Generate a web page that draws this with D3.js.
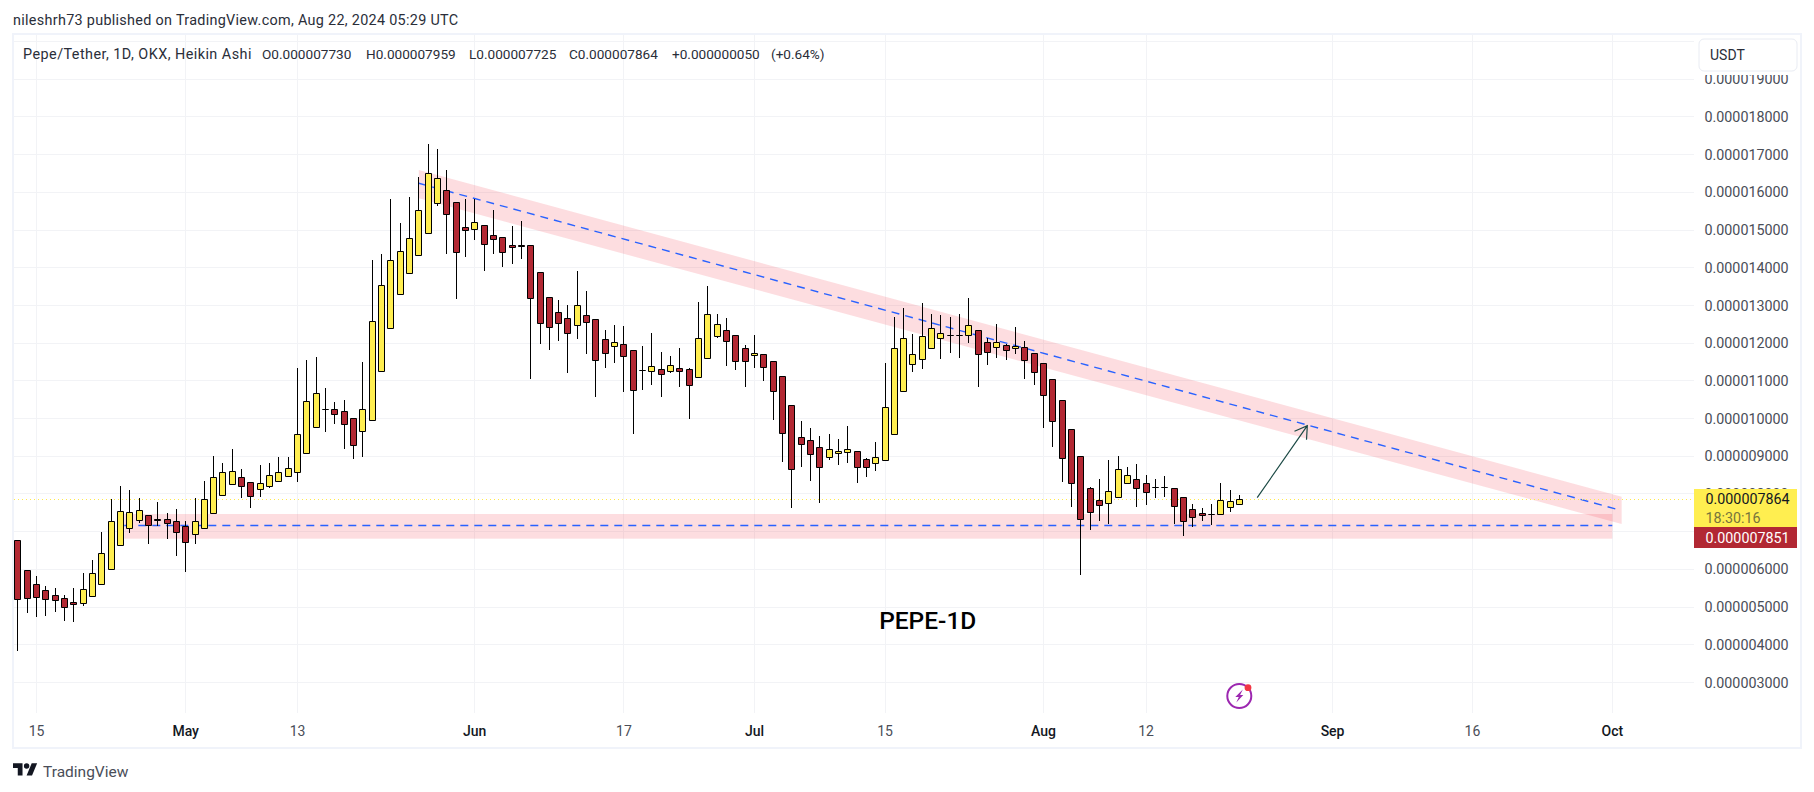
<!DOCTYPE html>
<html>
<head>
<meta charset="utf-8">
<title>PEPE-1D</title>
<script src="https://cdn.jsdelivr.net/npm/d3@7"></script>
<style>
  html, body { margin: 0; padding: 0; background: #fff; }
  svg { display: block; }
  text { font-family: Roboto, "Liberation Sans", sans-serif; }
  .grid line { stroke: #f2f3f6; stroke-width: 1; }
  .band { fill: #f23645; fill-opacity: 0.17; stroke: none; }
  .mid { fill: none; stroke: #2962ff; stroke-width: 1.4; stroke-dasharray: 8, 6; }
  .wick { stroke: #000; stroke-width: 1; }
  .body { stroke: #000; stroke-width: 1; }
  .ptick { font-size: 14.3px; fill: #4a4e58; }
  .ttick { font-size: 14px; fill: #4a4e58; text-anchor: middle; }
  .ttick.month { font-weight: 500; fill: #131722; }
  .legend { font-size: 13.6px; fill: #2a2e39; }
</style>
</head>
<body>
<script>
// prices in millionths of USDT, one entry per day from 13 Apr 2024
var opens = [6.768, 5.964, 5.592, 5.433, 5.301, 5.221, 5.124, 5.097, 5.283, 5.601, 5.999, 6.636, 7.087, 7.299, 7.431, 7.325, 7.325, 7.272, 7.140, 6.928,
  7.087, 7.485, 7.962, 8.254, 8.439, 8.307, 8.121, 8.201, 8.333, 8.466, 8.572, 9.076, 9.766, 10.243, 10.243, 10.190, 10.004, 9.660, 9.951, 11.251,
  12.392, 13.294, 13.851, 14.328, 14.912, 15.707, 16.052, 15.734, 15.071, 15.018, 15.124, 14.859, 14.805, 14.593, 14.585, 14.593, 13.877, 13.214, 12.816, 12.657,
  12.471, 12.737, 12.630, 12.100, 11.914, 11.967, 11.808, 11.269, 11.251, 11.304, 11.251, 11.331, 11.304, 11.092, 11.596, 12.179, 12.339, 12.206, 11.861, 11.676,
  11.702, 11.516, 11.118, 10.349, 9.500, 9.421, 9.235, 8.970, 9.076, 9.103, 9.129, 8.917, 8.811, 8.890, 9.580, 10.721, 11.437, 11.569, 11.861, 12.126,
  12.197, 12.197, 12.206, 12.339, 12.020, 11.888, 11.941, 11.861, 11.888, 11.729, 11.463, 11.039, 10.482, 9.713, 8.996, 8.148, 7.829, 7.750, 7.909, 8.280,
  8.386, 8.280, 8.174, 8.174, 8.148, 7.909, 7.591, 7.485, 7.458, 7.458, 7.644, 7.730];
var highs = [6.768, 5.964, 5.822, 5.557, 5.495, 5.318, 5.495, 5.893, 6.238, 6.981, 7.856, 8.201, 8.095, 7.882, 7.431, 7.776, 7.485, 7.591, 7.272, 7.882,
  8.333, 8.996, 8.811, 9.182, 8.652, 8.307, 8.758, 8.811, 8.970, 8.970, 11.331, 11.543, 11.622, 10.800, 10.429, 10.482, 10.004, 11.490, 14.195, 14.355,
  15.813, 15.177, 15.867, 16.397, 17.272, 17.140, 16.583, 15.734, 15.813, 15.813, 15.124, 15.522, 14.805, 15.097, 15.230, 14.593, 13.877, 13.214, 13.134, 13.002,
  13.904, 13.373, 12.630, 12.339, 12.471, 12.445, 11.808, 11.914, 12.259, 11.755, 11.649, 11.861, 11.331, 13.081, 13.506, 12.763, 12.657, 12.206, 11.941, 12.206,
  11.702, 11.516, 11.118, 10.349, 9.925, 9.739, 9.527, 9.589, 9.447, 9.792, 9.129, 8.943, 9.368, 11.463, 12.684, 12.922, 12.233, 13.055, 12.763, 12.737,
  12.684, 12.763, 13.188, 12.339, 12.126, 12.498, 11.976, 12.418, 12.047, 11.729, 11.463, 11.039, 10.482, 9.713, 8.996, 8.174, 8.386, 8.890, 8.996, 8.705,
  8.784, 8.492, 8.386, 8.466, 8.148, 7.909, 7.723, 7.617, 7.723, 8.280, 8.095, 7.959];
var lows = [3.842, 4.850, 4.744, 4.770, 4.876, 4.637, 4.611, 5.035, 5.283, 5.601, 5.999, 6.636, 6.972, 7.237, 6.680, 7.149, 6.813, 6.362, 5.937, 6.680,
  7.087, 7.485, 7.962, 8.254, 7.900, 7.635, 7.927, 8.165, 8.333, 8.466, 8.324, 9.076, 9.766, 9.633, 9.845, 9.182, 8.917, 8.970, 9.951, 11.251,
  12.392, 13.294, 13.851, 14.328, 14.912, 15.645, 14.372, 13.179, 14.293, 14.744, 13.921, 14.372, 14.027, 14.107, 14.240, 11.057, 11.985, 11.826, 12.064, 11.216,
  12.118, 11.720, 10.579, 11.348, 11.481, 10.712, 9.598, 10.765, 10.897, 10.579, 11.198, 10.844, 9.996, 11.092, 11.596, 12.144, 11.401, 11.295, 10.844, 11.348,
  11.004, 9.969, 8.855, 7.617, 8.722, 8.351, 7.767, 8.908, 8.775, 8.828, 8.298, 8.457, 8.616, 8.890, 9.580, 10.721, 11.242, 11.322, 11.861, 11.587,
  11.746, 11.614, 12.012, 10.844, 11.428, 11.614, 11.561, 11.720, 11.057, 10.897, 9.757, 9.253, 8.324, 7.661, 5.858, 7.051, 7.290, 7.210, 7.909, 8.280,
  7.661, 7.714, 7.900, 7.927, 7.210, 6.892, 7.131, 7.290, 7.184, 7.458, 7.529, 7.725];
var closes = [5.203, 5.230, 5.256, 5.203, 5.177, 4.991, 5.071, 5.469, 5.893, 6.424, 7.272, 7.538, 7.511, 7.564, 7.166, 7.299, 7.219, 6.981, 6.715, 7.272,
  7.856, 8.439, 8.572, 8.599, 8.201, 7.935, 8.280, 8.492, 8.572, 8.678, 9.580, 10.455, 10.668, 10.235, 10.110, 9.845, 9.288, 10.243, 12.577, 13.532,
  14.195, 14.434, 14.779, 15.522, 16.503, 16.370, 15.416, 14.408, 14.991, 15.203, 14.620, 14.752, 14.408, 14.540, 14.568, 13.188, 12.524, 12.418, 12.524, 12.259,
  13.002, 12.551, 11.543, 11.729, 12.020, 11.649, 10.747, 11.260, 11.384, 11.172, 11.410, 11.242, 10.880, 12.126, 12.763, 12.498, 12.047, 11.516, 11.516, 11.729,
  11.357, 10.721, 9.607, 8.652, 9.315, 9.050, 8.705, 9.182, 9.129, 9.182, 8.705, 8.705, 8.970, 10.296, 11.861, 12.126, 11.702, 12.179, 12.392, 12.259,
  12.206, 12.206, 12.471, 11.702, 11.755, 12.020, 11.808, 11.914, 11.543, 11.225, 10.614, 9.916, 8.943, 8.280, 7.325, 7.511, 7.697, 8.068, 8.652, 8.492,
  8.148, 8.042, 8.165, 8.165, 7.670, 7.272, 7.378, 7.431, 7.449, 7.829, 7.803, 7.864];

var firstDay = Date.UTC(2024, 3, 13);
var dayMs = 86400000;

var priceTicks = [3, 4, 5, 6, 7, 8, 9, 10, 11, 12, 13, 14, 15, 16, 17, 18, 19];
var priceGrid = priceTicks.concat([20]);

var timeTicks = ["2024-04-15", "2024-05-01", "2024-05-13", "2024-06-01", "2024-06-17", "2024-07-01", "2024-07-15", "2024-08-01", "2024-08-12", "2024-09-01", "2024-09-16", "2024-10-01"];
var timeLabels = ["15", "May", "13", "Jun", "17", "Jul", "15", "Aug", "12", "Sep", "16", "Oct"];

// drawings on the chart, anchored on date and price
var channelTimes = ["2024-05-26", "2024-10-02"];
var channelTop = [16.592, 7.926];
var channelMid = [16.239, 7.573];
var channelBottom = [15.841, 7.202];

var supportTimes = ["2024-04-24T10:00Z", "2024-10-01"];
var supportTop = 7.467;
var supportMid = 7.149;
var supportBottom = 6.812;

var arrowTimes = ["2024-08-23T22:00Z", "2024-08-29T07:00Z"];
var arrowPrices = [7.899, 9.809];

var lastPrice = 7.864;
var otherPrice = 7.851;
var countdown = "18:30:16";

var width = 1814,
  height = 792;

var x = d3
  .scaleUtc()
  .domain([new Date("2024-04-15"), new Date("2024-10-01")])
  .range([36.5, 1612.3]);
var y = d3.scaleLinear().domain([3, 19]).range([682.4, 79.2]);

var formatPrice = function (d) {
  return d3.format(".9f")(d * 1e-6);
};

function crisp(v) {
  return Math.floor(v) + 0.5;
}

function dayX(i) {
  return crisp(x(new Date(firstDay + i * dayMs)));
}

var svg = d3
  .select("body")
  .append("svg")
  .attr("width", width)
  .attr("height", height);

// grid
var grid = svg.append("g").attr("class", "grid");

grid
  .selectAll(".h")
  .data(priceGrid)
  .enter()
  .append("line")
  .attr("x1", 14)
  .attr("x2", 1694)
  .attr("y1", function (d) {
    return crisp(y(d));
  })
  .attr("y2", function (d) {
    return crisp(y(d));
  });

grid
  .selectAll(".v")
  .data(timeTicks)
  .enter()
  .append("line")
  .attr("y1", 35)
  .attr("y2", 713)
  .attr("x1", function (d) {
    return crisp(x(new Date(d)));
  })
  .attr("x2", function (d) {
    return crisp(x(new Date(d)));
  });

// frame
svg
  .append("rect")
  .attr("x", 13)
  .attr("y", 34)
  .attr("width", 1788)
  .attr("height", 714)
  .attr("fill", "none")
  .attr("stroke", "#f0f3fa")
  .attr("stroke-width", 2);

// pink zones and their dashed middle lines
var t0 = x(new Date(channelTimes[0])),
  t1 = x(new Date(channelTimes[1]));

svg
  .append("path")
  .attr("class", "band")
  .attr(
    "d",
    d3.line()([
      [t0, y(channelTop[0])],
      [t1, y(channelTop[1])],
      [t1, y(channelBottom[1])],
      [t0, y(channelBottom[0])],
    ]) + "Z"
  );

svg
  .append("path")
  .attr("class", "mid")
  .attr(
    "d",
    d3.line()([
      [t0, y(channelMid[0])],
      [t1 - 2, y(channelMid[1])],
    ])
  );

var s0 = x(new Date(supportTimes[0])),
  s1 = x(new Date(supportTimes[1]));

svg
  .append("rect")
  .attr("class", "band")
  .attr("x", s0)
  .attr("y", y(supportTop))
  .attr("width", s1 - s0)
  .attr("height", y(supportBottom) - y(supportTop));

svg
  .append("path")
  .attr("class", "mid")
  .attr(
    "d",
    d3.line()([
      [s0, crisp(y(supportMid))],
      [s1, crisp(y(supportMid))],
    ])
  );

// dotted last price line
svg
  .append("line")
  .attr("x1", 14)
  .attr("x2", 1694)
  .attr("y1", crisp(y(lastPrice)))
  .attr("y2", crisp(y(lastPrice)))
  .attr("stroke", "#ffe94d")
  .attr("stroke-dasharray", "1, 3");

// candles
var candles = svg
  .append("g")
  .selectAll("g")
  .data(opens)
  .enter()
  .append("g");

candles
  .append("line")
  .attr("class", "wick")
  .attr("x1", function (d, i) {
    return dayX(i);
  })
  .attr("x2", function (d, i) {
    return dayX(i);
  })
  .attr("y1", function (d, i) {
    return Math.round(y(highs[i]));
  })
  .attr("y2", function (d, i) {
    return Math.round(y(lows[i]));
  });

candles
  .append("path")
  .attr("class", "body")
  .attr("fill", function (d, i) {
    return closes[i] >= opens[i] ? "#ffee50" : "#b22833";
  })
  .attr("d", function (d, i) {
    var top = crisp(y(Math.max(opens[i], closes[i])));
    var bot = crisp(y(Math.min(opens[i], closes[i])));
    var p = d3.path();
    p.rect(dayX(i) - 3, top, 6, bot - top);
    return p.toString();
  });

// arrow
var a0 = [x(new Date(arrowTimes[0])), y(arrowPrices[0])],
  a1 = [x(new Date(arrowTimes[1])), y(arrowPrices[1])];
var ang = Math.atan2(a1[1] - a0[1], a1[0] - a0[0]);

function barb(turn) {
  return [a1[0] - 14 * Math.cos(ang + turn), a1[1] - 14 * Math.sin(ang + turn)];
}

svg
  .append("path")
  .attr("fill", "none")
  .attr("stroke", "#1c4a45")
  .attr("stroke-width", 1.2)
  .attr("d", d3.line()([a0, a1]) + d3.line()([barb(0.55), a1, barb(-0.55)]));

// chart note
svg
  .append("text")
  .attr("x", x(new Date("2024-07-19T14:00Z")))
  .attr("y", y(4.66))
  .attr("dy", "0.36em")
  .attr("text-anchor", "middle")
  .attr("font-size", 24.5)
  .attr("font-weight", 500)
  .attr("fill", "#000")
  .text("PEPE-1D");

// price scale
svg
  .append("g")
  .selectAll("text")
  .data(priceTicks)
  .enter()
  .append("text")
  .attr("class", "ptick")
  .attr("x", 1704.5)
  .attr("y", function (d) {
    return y(d);
  })
  .attr("dy", "0.36em")
  .text(formatPrice);

// time scale
svg
  .append("g")
  .selectAll("text")
  .data(timeTicks)
  .enter()
  .append("text")
  .attr("class", function (d, i) {
    return isNaN(timeLabels[i]) ? "ttick month" : "ttick";
  })
  .attr("x", function (d) {
    return x(new Date(d));
  })
  .attr("y", 736)
  .text(function (d, i) {
    return timeLabels[i];
  });

// price labels on the scale
svg.append("rect").attr("x", 1694).attr("y", 489).attr("width", 103).attr("height", 38).attr("fill", "#ffee50");
svg.append("rect").attr("x", 1694).attr("y", 527).attr("width", 103).attr("height", 21).attr("fill", "#b22833");

svg
  .append("text")
  .attr("class", "ptick")
  .attr("x", 1705.5)
  .attr("y", y(lastPrice))
  .attr("dy", "0.36em")
  .style("fill", "#131722")
  .text(formatPrice(lastPrice));

svg
  .append("text")
  .attr("class", "ptick")
  .attr("x", 1705.5)
  .attr("y", 518)
  .attr("dy", "0.36em")
  .style("fill", "#77743c")
  .text(countdown);

svg
  .append("text")
  .attr("class", "ptick")
  .attr("x", 1705.5)
  .attr("y", 537.5)
  .attr("dy", "0.36em")
  .style("fill", "#fff")
  .text(formatPrice(otherPrice));

// currency button, with white around it that cuts the top tick label
svg.append("rect").attr("x", 1695).attr("y", 36).attr("width", 104).attr("height", 39).attr("fill", "#fff");

svg
  .append("rect")
  .attr("x", 1699)
  .attr("y", 39)
  .attr("width", 98)
  .attr("height", 32)
  .attr("rx", 5)
  .attr("fill", "#fff")
  .attr("stroke", "#e9ecf3");

svg
  .append("text")
  .attr("x", 1710)
  .attr("y", 54.5)
  .attr("dy", "0.36em")
  .attr("font-size", 14)
  .attr("fill", "#2a2e39")
  .text("USDT");

// header and legend
svg
  .append("text")
  .attr("x", 13)
  .attr("y", 20)
  .attr("dy", "0.36em")
  .attr("font-size", 14.4)
  .attr("letter-spacing", 0.3)
  .attr("fill", "#2a2e39")
  .text("nileshrh73 published on TradingView.com, Aug 22, 2024 05:29 UTC");

var legendX = [23, 262, 366, 469, 569, 672, 771];
var legendText = ["Pepe/Tether, 1D, OKX, Heikin Ashi", "O0.000007730", "H0.000007959", "L0.000007725", "C0.000007864", "+0.000000050", "(+0.64%)"];

svg
  .append("g")
  .selectAll("text")
  .data(legendText)
  .enter()
  .append("text")
  .attr("class", "legend")
  .attr("x", function (d, i) {
    return legendX[i];
  })
  .attr("y", 54)
  .attr("dy", "0.36em")
  .style("font-size", function (d, i) {
    return i == 0 ? "14.4px" : null;
  })
  .attr("letter-spacing", function (d, i) {
    return i == 0 ? 0.45 : null;
  })
  .text(function (d) {
    return d;
  });

// lightning badge
var badge = svg.append("g").attr("transform", "translate(1239.3,696)");
badge.append("circle").attr("r", 12).attr("fill", "#fff").attr("stroke", "#9c27b0").attr("stroke-width", 2);
badge.append("path").attr("d", "M3.5,-6.5L-4,1L-0.5,1L-3,6.5L4,-1L0.8,-1Z").attr("fill", "#9c27b0");
badge.append("circle").attr("cx", 8.7).attr("cy", -8.3).attr("r", 3.4).attr("fill", "#f23645");

// TradingView mark
svg
  .append("path")
  .attr("transform", "translate(13,760.6) scale(0.68)")
  .attr("fill", "#131722")
  .attr("d", "M14 22H7V11H0V4h14v18zM28 22h-8l7.5-18h8L28 22zM24 8a4 4 0 1 1-8 0 4 4 0 0 1 8 0z");

svg
  .append("text")
  .attr("x", 43)
  .attr("y", 771)
  .attr("dy", "0.36em")
  .attr("font-size", 15.5)
  .attr("fill", "#4a4e58")
  .text("TradingView");
</script>
</body>
</html>
